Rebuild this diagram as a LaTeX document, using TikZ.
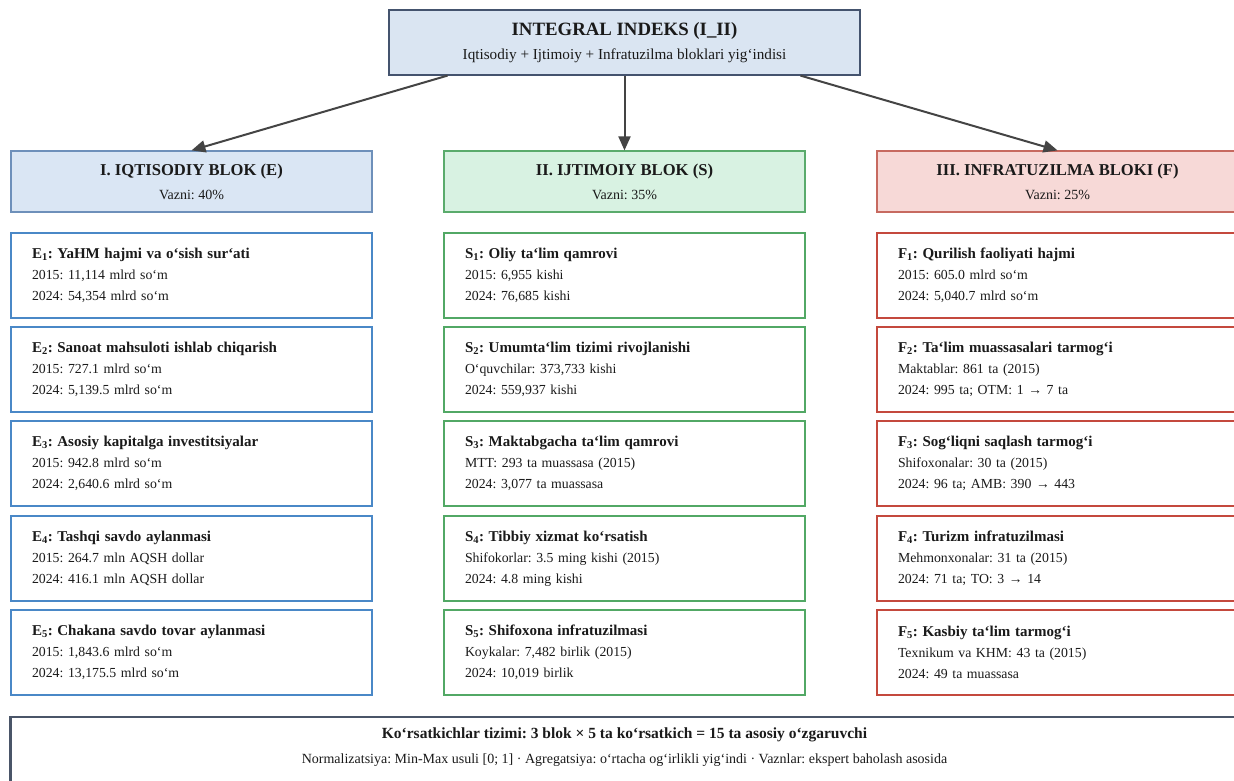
\documentclass[tikz,border=0pt]{standalone}
\usepackage{fontspec}
\setmainfont{Liberation Serif}
\usetikzlibrary{arrows.meta,calc}
\definecolor{txt}{HTML}{1A1A1A}
\definecolor{topfill}{HTML}{DAE5F2}
\definecolor{topdraw}{HTML}{44536E}
\definecolor{efill}{HTML}{DAE6F4}
\definecolor{edraw}{HTML}{6E90BA}
\definecolor{sfill}{HTML}{D8F2E2}
\definecolor{sdraw}{HTML}{5AAB6C}
\definecolor{ffill}{HTML}{F7D9D7}
\definecolor{fdraw}{HTML}{C76A60}
\definecolor{eind}{HTML}{4A88C7}
\definecolor{sind}{HTML}{52A865}
\definecolor{find}{HTML}{C4493D}
\definecolor{botdraw}{HTML}{4A5568}
\definecolor{arrowc}{HTML}{444444}
\frenchspacing
\begin{document}
\begin{tikzpicture}[x=1pt,y=-1pt,
  every node/.style={text=txt},
  topbox/.style={draw=topdraw, fill=topfill, line width=1.2pt, minimum width=471pt, minimum height=65pt, align=center, inner sep=0pt, font={\fontsize{15.2}{24}\selectfont}},
  hdrbox/.style={line width=1.2pt, minimum width=361pt, minimum height=61pt, align=center, inner sep=0pt, font={\fontsize{14}{24}\selectfont}},
  indbox/.style={line width=2pt, fill=white, minimum width=361pt, minimum height=85pt, text width=319pt, inner xsep=21pt, inner ysep=0pt, align=left, font={\fontsize{13.8}{21}\selectfont}},
  ebox/.style={indbox, draw=eind},
  sbox/.style={indbox, draw=sind},
  fbox/.style={indbox, draw=find},
  conn/.style={draw=arrowc, line width=2pt, -{Triangle[length=14pt,width=12pt]}},
  botbox/.style={draw=botdraw, line width=2.2pt, fill=white, minimum width=1228pt, minimum height=80pt, inner sep=0pt}
]
\useasboundingbox (0,0) rectangle (1234,780);
\newcommand{\ttl}[1]{{\bfseries\fontsize{15}{21}\selectfont #1}}
\newcommand{\sub}[1]{\textsubscript{#1}}

% top
\node[topbox] (top) at (624.5,42.5) {{\bfseries\fontsize{18.8}{24}\selectfont INTEGRAL INDEKS (I\_II)}\\Iqtisodiy + Ijtimoiy + Infratuzilma bloklari yig‘indisi};

% headers
\node[hdrbox, draw=edraw, fill=efill] (hE) at (191.5,181.5) {{\bfseries\fontsize{16.6}{24}\selectfont I. IQTISODIY BLOK (E)}\\Vazni: 40\%};
\node[hdrbox, draw=sdraw, fill=sfill] (hS) at (624.5,181.5) {{\bfseries\fontsize{16.6}{24}\selectfont II. IJTIMOIY BLOK (S)}\\Vazni: 35\%};
\node[hdrbox, draw=fdraw, fill=ffill] (hF) at (1057.5,181.5) {{\bfseries\fontsize{16.6}{24}\selectfont III. INFRATUZILMA BLOKI (F)}\\Vazni: 25\%};

% arrows
\draw[conn] ([xshift=-177pt]top.south) -- (hE.north);
\draw[conn] (top.south) -- (hS.north);
\draw[conn] ([xshift=176pt]top.south) -- (hF.north);

% E column
\node[ebox] (e1) at (191.5,275.5) {\ttl{E\sub{1}: YaHM hajmi va o‘sish sur‘ati}\\2015: 11,114 mlrd so‘m\\2024: 54,354 mlrd so‘m};
\node[ebox] (e2) at (191.5,369.5) {\ttl{E\sub{2}: Sanoat mahsuloti ishlab chiqarish}\\2015: 727.1 mlrd so‘m\\2024: 5,139.5 mlrd so‘m};
\node[ebox] (e3) at (191.5,463.5) {\ttl{E\sub{3}: Asosiy kapitalga investitsiyalar}\\2015: 942.8 mlrd so‘m\\2024: 2,640.6 mlrd so‘m};
\node[ebox] (e4) at (191.5,558.5) {\ttl{E\sub{4}: Tashqi savdo aylanmasi}\\2015: 264.7 mln AQSH dollar\\2024: 416.1 mln AQSH dollar};
\node[ebox] (e5) at (191.5,652.5) {\ttl{E\sub{5}: Chakana savdo tovar aylanmasi}\\2015: 1,843.6 mlrd so‘m\\2024: 13,175.5 mlrd so‘m};

% S column
\node[sbox] (s1) at (624.5,275.5) {\ttl{S\sub{1}: Oliy ta‘lim qamrovi}\\2015: 6,955 kishi\\2024: 76,685 kishi};
\node[sbox] (s2) at (624.5,369.5) {\ttl{S\sub{2}: Umumta‘lim tizimi rivojlanishi}\\O‘quvchilar: 373,733 kishi\\2024: 559,937 kishi};
\node[sbox] (s3) at (624.5,463.5) {\ttl{S\sub{3}: Maktabgacha ta‘lim qamrovi}\\MTT: 293 ta muassasa (2015)\\2024: 3,077 ta muassasa};
\node[sbox] (s4) at (624.5,558.5) {\ttl{S\sub{4}: Tibbiy xizmat ko‘rsatish}\\Shifokorlar: 3.5 ming kishi (2015)\\2024: 4.8 ming kishi};
\node[sbox] (s5) at (624.5,652.5) {\ttl{S\sub{5}: Shifoxona infratuzilmasi}\\Koykalar: 7,482 birlik (2015)\\2024: 10,019 birlik};

% F column
\node[fbox] (f1) at (1057.5,275.5) {\ttl{F\sub{1}: Qurilish faoliyati hajmi}\\2015: 605.0 mlrd so‘m\\2024: 5,040.7 mlrd so‘m};
\node[fbox] (f2) at (1057.5,369.5) {\ttl{F\sub{2}: Ta‘lim muassasalari tarmog‘i}\\Maktablar: 861 ta (2015)\\2024: 995 ta; OTM: 1 → 7 ta};
\node[fbox] (f3) at (1057.5,463.5) {\ttl{F\sub{3}: Sog‘liqni saqlash tarmog‘i}\\Shifoxonalar: 30 ta (2015)\\2024: 96 ta; AMB: 390 → 443};
\node[fbox] (f4) at (1057.5,558.5) {\ttl{F\sub{4}: Turizm infratuzilmasi}\\Mehmonxonalar: 31 ta (2015)\\2024: 71 ta; TO: 3 → 14};
\node[fbox] (f5) at (1057.5,652.5) {\ttl{F\sub{5}: Kasbiy ta‘lim tarmog‘i}\\Texnikum va KHM: 43 ta (2015)\\2024: 49 ta muassasa};

% bottom
\node[botbox, anchor=north] (bot) at (624.5,716) {};
\node[font={\bfseries\fontsize{15.5}{18}\selectfont}] (bt) at ($(bot.north)+(0,19)$) {Ko‘rsatkichlar tizimi: 3 blok × 5 ta ko‘rsatkich = 15 ta asosiy o‘zgaruvchi};
\node[font={\fontsize{14}{16}\selectfont}] (bs) at ($(bot.north)+(0,44)$) {Normalizatsiya: Min-Max usuli [0; 1] · Agregatsiya: o‘rtacha og‘irlikli yig‘indi · Vaznlar: ekspert baholash asosida};
\end{tikzpicture}
\end{document}
